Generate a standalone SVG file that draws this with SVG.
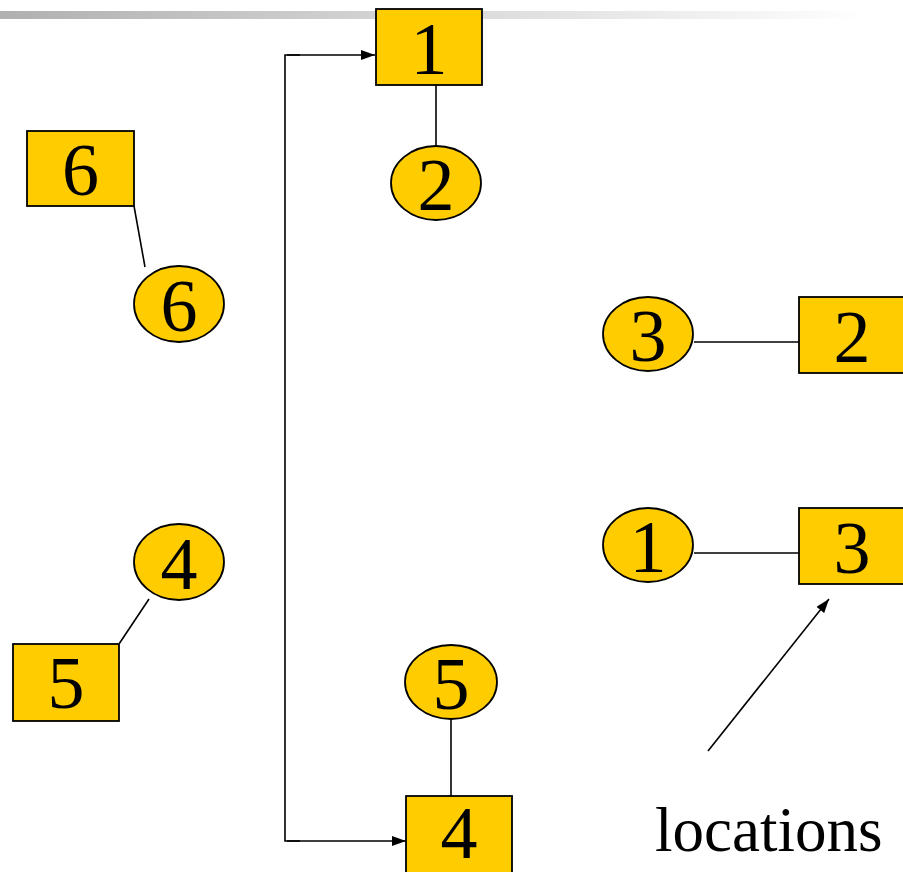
<svg xmlns="http://www.w3.org/2000/svg" width="903" height="872" viewBox="0 0 903 872">
<defs>
<linearGradient id="bar" x1="0" y1="0" x2="1" y2="0">
<stop offset="0" stop-color="#b0b0b0"/>
<stop offset="1" stop-color="#ffffff"/>
</linearGradient>
<marker id="ah" viewBox="0 0 14 10" refX="14" refY="5" markerWidth="14" markerHeight="10" markerUnits="userSpaceOnUse" orient="auto">
<path d="M0,0 L14,5 L0,10 Z" fill="#000"/>
</marker>
<style>
.n{fill:#FFCC00;stroke:#000;stroke-width:1.8}
.t{font-size:74px;fill:#000;text-anchor:middle}
.c{fill:none;stroke:#000;stroke-width:1.6}
.lbl{font-size:63px;fill:#000}
</style>
</defs>
<rect x="0" y="11" width="866" height="8" fill="url(#bar)"/>
<g id="connectors">
<line class="c" x1="436" y1="85" x2="436" y2="146"/>
<line class="c" x1="134" y1="206" x2="145" y2="267"/>
<line class="c" x1="694" y1="342" x2="799" y2="342"/>
<line class="c" x1="694" y1="553" x2="799" y2="553"/>
<line class="c" x1="149" y1="599" x2="119" y2="644"/>
<line class="c" x1="451" y1="719" x2="451" y2="796"/>
<polyline class="c" points="300,55 285,55 285,841 300,841"/>
<line class="c" x1="287" y1="55" x2="375" y2="55" marker-end="url(#ah)"/>
<line class="c" x1="287" y1="841" x2="406" y2="841" marker-end="url(#ah)"/>
<line class="c" x1="708" y1="751" x2="829" y2="599" marker-end="url(#ah)"/>
</g>
<g font-family="Liberation Serif, Tinos, Times New Roman, Times, Noto Serif, DejaVu Serif, FreeSerif, serif">
<g id="box1"><rect class="n" x="376" y="9" width="106" height="76"/><text class="t" x="429" y="74">1</text></g>
<g id="circle2"><ellipse class="n" cx="436" cy="183" rx="45" ry="37"/><text class="t" x="436" y="210">2</text></g>
<g id="box6"><rect class="n" x="27" y="131" width="107" height="75"/><text class="t" x="80.5" y="195">6</text></g>
<g id="circle6"><ellipse class="n" cx="179" cy="304" rx="45" ry="38"/><text class="t" x="179" y="331">6</text></g>
<g id="circle3"><ellipse class="n" cx="648" cy="334" rx="45" ry="37"/><text class="t" x="648" y="361">3</text></g>
<g id="box2"><rect class="n" x="799" y="297" width="106" height="76"/><text class="t" x="852" y="362">2</text></g>
<g id="circle1"><ellipse class="n" cx="648" cy="545" rx="45" ry="37"/><text class="t" x="648" y="572">1</text></g>
<g id="box3"><rect class="n" x="799" y="508" width="106" height="76"/><text class="t" x="852" y="573">3</text></g>
<g id="circle4"><ellipse class="n" cx="179" cy="562" rx="45" ry="38"/><text class="t" x="179" y="589">4</text></g>
<g id="box5"><rect class="n" x="13" y="644" width="106" height="77"/><text class="t" x="66" y="708">5</text></g>
<g id="circle5"><ellipse class="n" cx="451" cy="682" rx="46" ry="37"/><text class="t" x="451" y="709">5</text></g>
<g id="box4"><rect class="n" x="406" y="796" width="106" height="78"/><text class="t" x="459" y="858">4</text></g>
<g id="label"><text class="lbl" x="655" y="851">locations</text></g>
</g>
</svg>
